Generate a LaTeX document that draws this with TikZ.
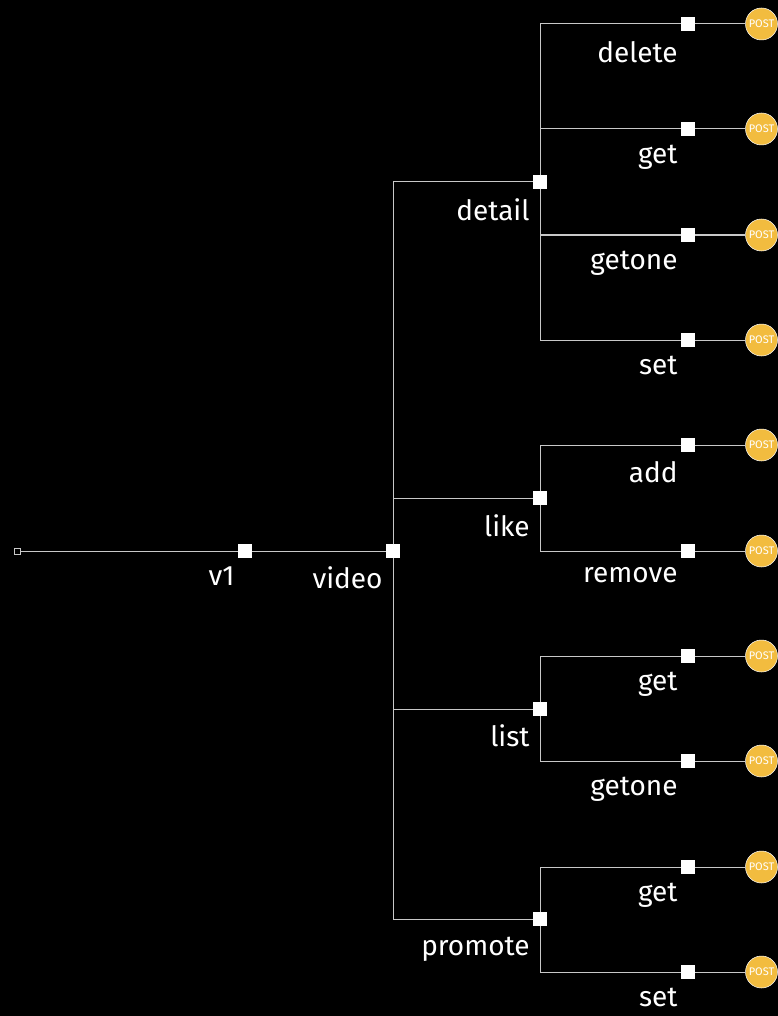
\documentclass[tikz,border=0pt]{standalone}
\usepackage{fontspec}
\setmainfont{Fira Sans}
\usetikzlibrary{positioning}
\definecolor{postfill}{HTML}{F2BC3F}
\definecolor{wirecol}{HTML}{C8C8C8}
\begin{document}
\begin{tikzpicture}[
x=1pt, y=-1pt,
node distance=50.5pt,
hub/.style={rectangle, fill=white, draw=white, line width=0.5pt, inner sep=0pt, minimum size=13pt},
start/.style={rectangle, draw=wirecol, line width=1pt, fill=black, inner sep=0pt, minimum size=6pt},
post/.style={circle, fill=postfill, draw=white, line width=0.5pt, inner sep=0pt, minimum size=32pt, text=white, font=\fontsize{11}{11}\selectfont},
lbl/.style={inner sep=0pt, text=white, text height=20pt, text depth=1pt, font=\fontsize{28}{28}\selectfont},
wire/.style={draw=wirecol, line width=1pt}
]
\fill[black] (0,0) rectangle (778,1016);
\useasboundingbox (0,0) rectangle (778,1016);

\node[start] (root) at (17,551) {};
\node[hub] (v1) at (245,551) {};
\node[hub] (video) at (393,551) {};
\node[hub] (detail) at (540,182) {};
\node[hub] (like) at (540,498) {};
\node[hub] (list) at (540,709) {};
\node[hub] (promote) at (540,919) {};

\node[hub] (detaildelete) at (688,24) {};
\node[hub] (detailget) at (688,129) {};
\node[hub] (detailgetone) at (688,235) {};
\node[hub] (detailset) at (688,340) {};
\node[hub] (likeadd) at (688,445) {};
\node[hub] (likeremove) at (688,551) {};
\node[hub] (listget) at (688,656) {};
\node[hub] (listgetone) at (688,761) {};
\node[hub] (promoteget) at (688,867) {};
\node[hub] (promoteset) at (688,972) {};

\node[post, right=of detaildelete] (p1) {POST};
\node[post, right=of detailget] (p2) {POST};
\node[post, right=of detailgetone] (p3) {POST};
\node[post, right=of detailset] (p4) {POST};
\node[post, right=of likeadd] (p5) {POST};
\node[post, right=of likeremove] (p6) {POST};
\node[post, right=of listget] (p7) {POST};
\node[post, right=of listgetone] (p8) {POST};
\node[post, right=of promoteget] (p9) {POST};
\node[post, right=of promoteset] (p10) {POST};

\node[lbl, below left=8pt and 3.5pt of v1] (tv1) {v1};
\node[lbl, below left=11pt and 3.5pt of video] (tvideo) {video};
\node[lbl, below left=12pt and 3.5pt of detail] (tdetail) {detail};
\node[lbl, below left=12pt and 3.5pt of like] (tlike) {like};
\node[lbl, below left=11pt and 3.5pt of list] (tlist) {list};
\node[lbl, below left=9.5pt and 3.5pt of promote] (tpromote) {promote};
\node[lbl, below left=12pt and 3.5pt of detaildelete] (t1) {delete};
\node[lbl, below left=8pt and 3.5pt of detailget] (t2) {get};
\node[lbl, below left=8pt and 3.5pt of detailgetone] (t3) {getone};
\node[lbl, below left=8pt and 3.5pt of detailset] (t4) {set};
\node[lbl, below left=11pt and 3.5pt of likeadd] (t5) {add};
\node[lbl, below left=4.5pt and 3.5pt of likeremove] (t6) {remove};
\node[lbl, below left=8pt and 3.5pt of listget] (t7) {get};
\node[lbl, below left=8pt and 3.5pt of listgetone] (t8) {getone};
\node[lbl, below left=8pt and 3.5pt of promoteget] (t9) {get};
\node[lbl, below left=8pt and 3.5pt of promoteset] (t10) {set};

\draw[wire] (root) -- (v1);
\draw[wire] (v1) -- (video);
\draw[wire] (video) |- (detail);
\draw[wire] (video) |- (like);
\draw[wire] (video) |- (list);
\draw[wire] (video) |- (promote);
\draw[wire] (detail) |- (detaildelete);
\draw[wire] (detail) |- (detailget);
\draw[wire] (detail) |- (detailgetone);
\draw[wire] (detail) |- (detailset);
\draw[wire] (like) |- (likeadd);
\draw[wire] (like) |- (likeremove);
\draw[wire] (list) |- (listget);
\draw[wire] (list) |- (listgetone);
\draw[wire] (promote) |- (promoteget);
\draw[wire] (promote) |- (promoteset);
\draw[wire] (detaildelete) -- (p1);
\draw[wire] (detailget) -- (p2);
\draw[wire] (detailgetone) -- (p3);
\draw[wire] (detailset) -- (p4);
\draw[wire] (likeadd) -- (p5);
\draw[wire] (likeremove) -- (p6);
\draw[wire] (listget) -- (p7);
\draw[wire] (listgetone) -- (p8);
\draw[wire] (promoteget) -- (p9);
\draw[wire] (promoteset) -- (p10);
\end{tikzpicture}
\end{document}
